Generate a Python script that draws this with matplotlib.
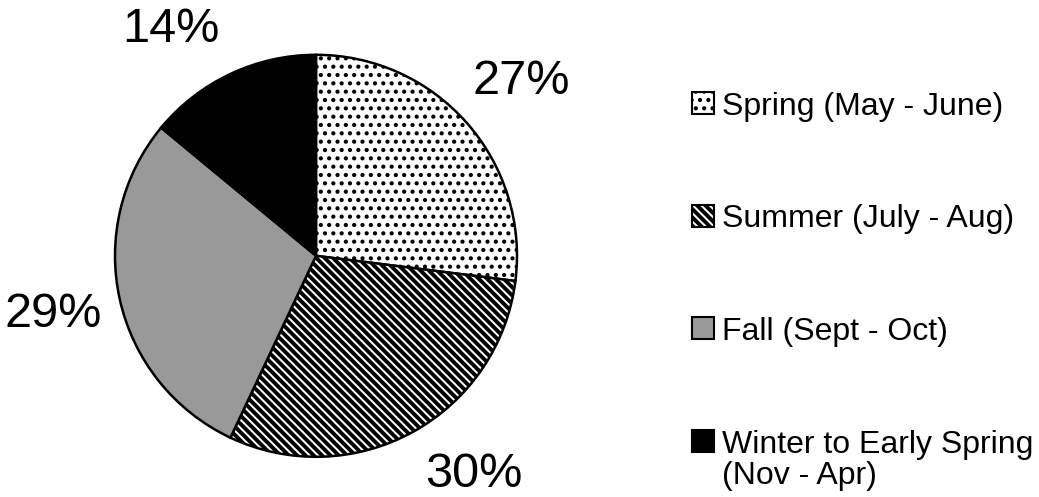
import matplotlib
matplotlib.use("Agg")
import numpy as np
import matplotlib.pyplot as plt
from matplotlib.patches import Rectangle

plt.rcParams['font.family'] = ['Liberation Sans', 'DejaVu Sans']
plt.rcParams['hatch.linewidth'] = 2.0
plt.rcParams['hatch.color'] = 'black'

categories = ["Spring (May - June)", "Summer (July - Aug)", "Fall (Sept - Oct)",
              "Winter to Early Spring\n(Nov - Apr)"]
values = [27, 30, 29, 14]
facecolors = ["white", "white", "#999999", "black"]
hatches = ["..", "\\\\\\\\", None, None]
hatch_lw = [1.8, 2.8, 1.0, 1.0]
# angular nudge (degrees) of each percentage label, as the reference places them
label_shift = [-1, 7, 0, 7.5]

W, H = 1039, 497
fig = plt.figure(figsize=(W / 100, H / 100), dpi=100)
ax = fig.add_axes([74.8 / W, 0.0, 482.4 / W, 482.4 / H])

wedges, texts = ax.pie(
    values, startangle=90, counterclock=False, colors=facecolors,
    wedgeprops=dict(edgecolor="black", linewidth=1.8))
for w, h, lw in zip(wedges, hatches, hatch_lw):
    if h:
        w.set_hatch(h)
        if hasattr(w, "set_hatch_linewidth"):
            w.set_hatch_linewidth(lw)

total = sum(values)
for w, v, s in zip(wedges, values, label_shift):
    mid = np.deg2rad((w.theta1 + w.theta2) / 2 + s)
    ax.text(1.34 * np.cos(mid), 1.34 * np.sin(mid), f"{100 * v / total:.0f}%",
            ha="center", va="center", fontsize=35, color="black")

ax.set_xlim(-1.2, 1.2)
ax.set_ylim(-1.2, 1.2)
ax.set_aspect('equal')
ax.axis('off')

# legend, drawn in figure pixels
x0, y0, step, box = 692, 92, 112.7, 22
for i, (lab, fc, h, lw) in enumerate(zip(categories, facecolors, hatches, hatch_lw)):
    top = y0 + i * step
    rect = Rectangle((x0 / W, 1 - (top + box) / H), box / W, box / H,
                     transform=fig.transFigure, facecolor=fc, edgecolor="black",
                     linewidth=1.5, hatch=h)
    if h and hasattr(rect, "set_hatch_linewidth"):
        rect.set_hatch_linewidth(lw)
    fig.add_artist(rect)
    fig.text((x0 + box + 8) / W, 1 - (top - 0.5) / H, lab, fontsize=23,
             ha="left", va="top", linespacing=1.05)

fig.savefig("out.png", dpi=100)
